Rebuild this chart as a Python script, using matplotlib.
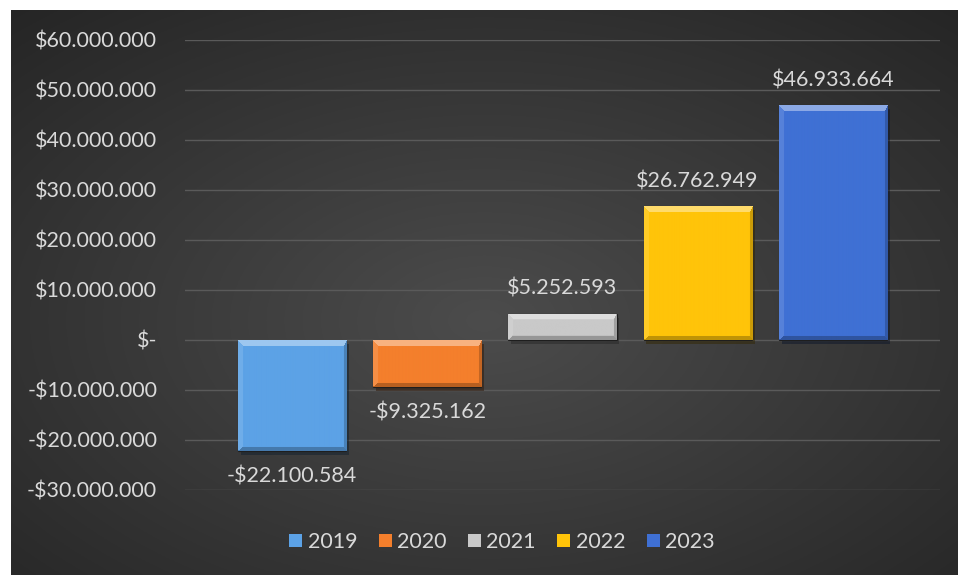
import numpy as np
import matplotlib
matplotlib.use("Agg")
import matplotlib.pyplot as plt
import matplotlib.patheffects as pe
from matplotlib.colors import to_rgb
from matplotlib.patches import Patch, Rectangle

years = ["2019", "2020", "2021", "2022", "2023"]
values = [-22100584, -9325162, 5252593, 26762949, 46933664]
colors = ["#5ca2e6", "#f47f2c", "#c9c9c9", "#ffc409", "#3f70d4"]
ytick_values = [-30e6, -20e6, -10e6, 0, 10e6, 20e6, 30e6, 40e6, 50e6, 60e6]
ytick_labels = ["-$30.000.000", "-$20.000.000", "-$10.000.000", "$-",
                "$10.000.000", "$20.000.000", "$30.000.000", "$40.000.000",
                "$50.000.000", "$60.000.000"]

TXT = "#d9d9d9"
plt.rcParams["font.family"] = ["Lato", "DejaVu Sans"]


def money(v):
    s = f"{abs(v):,}".replace(",", ".")
    return ("-$" if v < 0 else "$") + s


def bevel(color, w, h):
    # soft bevel: light top band, faint side strips, darker bottom edge
    base = np.array(to_rgb(color))
    img = np.tile(base, (h, w, 1))
    yy, xx = np.mgrid[0:h, 0:w]
    d = np.stack([yy, h - 1 - yy, xx, w - 1 - xx]).astype(float)
    size = np.array([6, 4, 5, 3])[:, None, None]
    amt = np.array([0.4, -0.25, 0.12, -0.2])[:, None, None]
    rel = d / size
    near = rel.argmin(0)
    inside = rel.min(0) < 1
    a = np.take_along_axis(np.broadcast_to(amt, d.shape), near[None], 0)[0]
    a = np.where(inside, a, 0.0)[..., None]
    out = np.where(a > 0, img + (1 - img) * a, img * (1 + a))
    return np.clip(out, 0, 1)


fig = plt.figure(figsize=(9.58, 5.75), dpi=100)
fig.patch.set_facecolor("white")

# dark panel: solid fill reaching the right/bottom edges, radial glow on top
fig.patches.append(Rectangle((11 / 958, 0), 1, 1 - 10 / 575, transform=fig.transFigure,
                             facecolor="#262626", edgecolor="none", zorder=-2))
bg = fig.add_axes([11 / 958, 0, 1 - 11 / 958, 1 - 10 / 575])
gy, gx = np.mgrid[0:1:300j, 0:1:500j]
r = np.sqrt(((gx - 0.5) / 0.75) ** 2 + ((gy - 0.55) / 0.75) ** 2)
r = np.clip(r, 0, 1)
c0, c1 = np.array(to_rgb("#4c4c4c")), np.array(to_rgb("#252525"))
grad = c0 + (c1 - c0) * r[..., None]
bg.imshow(grad, aspect="auto", extent=(0, 1, 0, 1))
bg.set_xlim(0, 1)
bg.set_ylim(0, 1)
bg.axis("off")

ax = fig.add_axes([185 / 958, 85 / 575, 755 / 958, 450 / 575])
ax.set_facecolor("none")
x = np.arange(len(years))
width = 0.8
ax.set_xlim(-0.793, len(years) - 1 + 0.793)
ax.set_ylim(-30e6, 60e6)

bars = ax.bar(x, values, width=width, color=colors, zorder=2,
              edgecolor="#1e1e1e", linewidth=0.8,
              path_effects=[pe.SimplePatchShadow(offset=(2, -3), alpha=0.5, rho=0.2),
                            pe.Normal()])

fig.canvas.draw()
for b, c in zip(bars, colors):
    bb = b.get_window_extent()
    w_px = max(int(round(bb.width)), 2)
    h_px = max(int(round(bb.height)), 2)
    x0, y0 = b.get_x(), b.get_y()
    x1, y1 = x0 + b.get_width(), y0 + b.get_height()
    im = ax.imshow(bevel(c, w_px, h_px), extent=(x0, x1, min(y0, y1), max(y0, y1)),
                   aspect="auto", zorder=3, interpolation="bilinear")
    im.set_clip_path(b)

ax.set_xlim(-0.793, len(years) - 1 + 0.793)
ax.set_ylim(-30e6, 60e6)

for xi, v in zip(x, values):
    off = 25 if v > 0 else -26
    ax.annotate(money(v), (xi, v), xytext=(0, off), textcoords="offset pixels",
                ha="center", va="center", color=TXT, fontsize=15.5)

ax.set_yticks(ytick_values)
ax.set_yticklabels(ytick_labels)
ax.set_xticks([])
ax.tick_params(axis="y", length=0, pad=20, labelcolor=TXT, labelsize=15.5)
ax.grid(axis="y", color="#5a5a5a", linewidth=1)
ax.set_axisbelow(True)
for s in ax.spines.values():
    s.set_visible(False)

handles = [Patch(facecolor=c, edgecolor="none") for c in colors]
leg = fig.legend(handles, years, loc="center", bbox_to_anchor=(0.524, 0.057),
                 ncol=5, frameon=False, fontsize=15.5, handlelength=0.6,
                 handleheight=0.6, handletextpad=0.25, columnspacing=1.0)
for t in leg.get_texts():
    t.set_color(TXT)

fig.savefig("out.png", dpi=100)
